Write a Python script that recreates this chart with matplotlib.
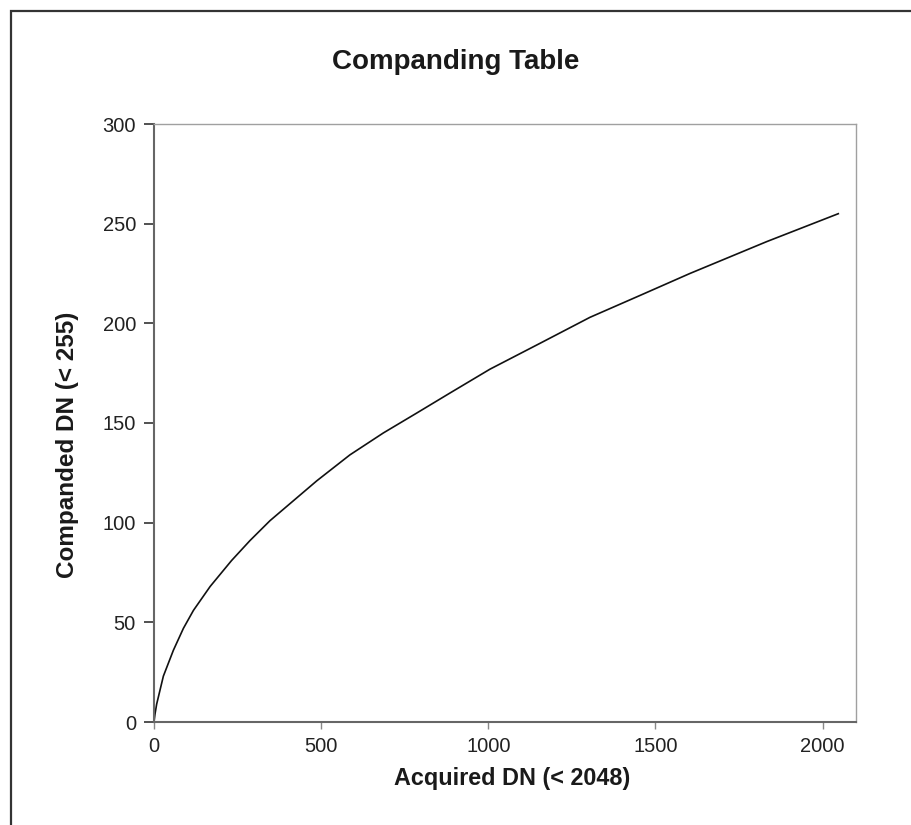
import matplotlib.pyplot as plt
from matplotlib.patches import Rectangle

# Values
acquired = [0, 3, 8, 28, 58, 88, 118, 168, 232, 287, 347, 417, 487, 586,
            686, 786, 885, 1005, 1155, 1304, 1454, 1603, 1833, 2047]
companded = [0, 4, 9, 23, 36, 47, 56, 68, 81, 91, 101, 111, 121, 134,
             145, 155, 165, 177, 190, 203, 214, 225, 241, 255]

x_ticks = [0, 500, 1000, 1500, 2000]
y_ticks = [0, 50, 100, 150, 200, 250, 300]

plt.rcParams['font.family'] = ['Liberation Sans', 'DejaVu Sans']

W, H = 911, 825
fig = plt.figure(figsize=(W / 100, H / 100), dpi=100)

# outer frame (left and top edges visible, runs off the right/bottom)
fig.patches.append(Rectangle((11 / W, -0.05), 1.2, 1.05 - 11 / H,
                             transform=fig.transFigure, fill=False,
                             edgecolor='#333333', linewidth=1.6))

ax = fig.add_axes([154 / W, 1 - 722 / H, 702 / W, 598 / H])
ax.plot(acquired, companded, color='#111111', linewidth=1.2)

ax.set_xlim(0, 2100)
ax.set_ylim(0, 300)
ax.set_xticks(x_ticks)
ax.set_yticks(y_ticks)

for side in ['left', 'bottom']:
    ax.spines[side].set_color('#666666')
    ax.spines[side].set_linewidth(1.5)
for side in ['top', 'right']:
    ax.spines[side].set_color('#a0a0a0')
    ax.spines[side].set_linewidth(1.0)

ax.tick_params(axis='y', direction='out', length=7, width=1.2, colors='#333333',
               labelsize=14.5, labelcolor='#222222', pad=6)
ax.tick_params(axis='x', direction='out', length=5, width=1.0, colors='#888888',
               labelsize=14.5, labelcolor='#222222', pad=6)

fig.text(456 / W, 1 - 62 / H, 'Companding Table', ha='center', va='center',
         fontsize=20, fontweight='bold', color='#1a1a1a')
fig.text(512 / W, 1 - 778 / H, 'Acquired DN (< 2048)', ha='center', va='center',
         fontsize=16.8, fontweight='bold', color='#1a1a1a')
fig.text(68 / W, 1 - 445 / H, 'Companded DN (< 255)', ha='center', va='center',
         rotation=90, fontsize=17.5, fontweight='bold', color='#1a1a1a')

fig.savefig('out.png', dpi=100)
